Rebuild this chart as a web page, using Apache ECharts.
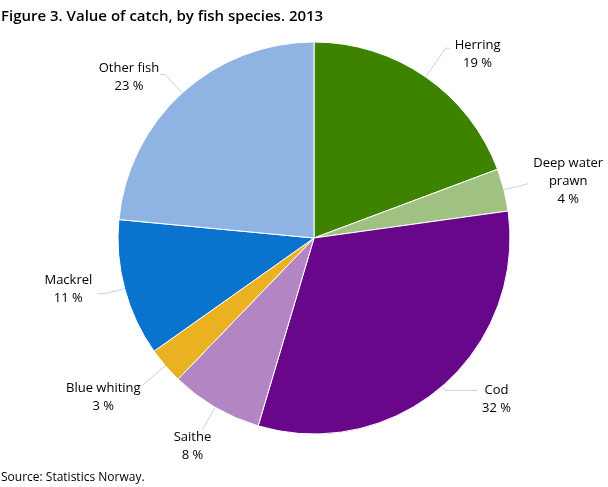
<!DOCTYPE html>
<html>
<head>
<meta charset="utf-8">
<title>Value of catch, by fish species. 2013</title>
<script src="https://cdn.jsdelivr.net/npm/echarts@6/dist/echarts.min.js"></script>
<style>
  html, body { margin: 0; padding: 0; background: #fff; }
  #catch_pie { width: 608px; height: 487px; }
</style>
</head>
<body>
<div id="catch_pie"></div>
<script>
// data: slice sizes estimated from the angles, printed shares as labelled
var categories = ['Herring', 'Deep water prawn', 'Cod', 'Saithe', 'Blue whiting', 'Mackrel', 'Other fish'];
var values = [19.3, 3.5, 31.8, 7.6, 3.0, 11.3, 23.5];
var printedPct = [19, 4, 32, 8, 3, 11, 23];
var labelNames = ['Herring', 'Deep water\nprawn', 'Cod', 'Saithe', 'Blue whiting', 'Mackrel', 'Other fish'];

var colors = ['#3d8300', '#9fc283', '#69078a', '#b385c2', '#eab221', '#0973ce', '#8fb3e2'];

// leader line tweaks per slice: [length, length2, gap to text, padding]
var leader = {
    'Herring':          [35, 4, 5, [12, 0, 0, 0]],
    'Deep water prawn': [25, 0, 5, [0, 0, 4, 0]],
    'Cod':              [5, 32, 5, [18, 0, 0, 0]],
    'Saithe':           [26, 0, -9, [34, 0, 0, 0]],
    'Blue whiting':     [30, 2, 0, [24, 0, 0, 0]],
    'Mackrel':          [20, 8, 5, [0, 0, 8, 0]],
    'Other fish':       [25, 5, 1, [6, 0, 0, 0]]
};

var myChart = echarts.init(document.getElementById('catch_pie'));

var pieData = categories.map(function (name, i) {
    var t = leader[name];
    return {
        name: name,
        value: values[i],
        itemStyle: { color: colors[i] },
        labelLine: { length: t[0], length2: t[1] },
        label: { distanceToLabelLine: t[2], padding: t[3] }
    };
});

var option = {
    animation: false,
    title: [
        {
            text: 'Figure 3. Value of catch, by fish species. 2013',
            left: -4,
            top: 4,
            textStyle: { fontFamily: 'Open Sans', fontSize: 15, fontWeight: 600, color: '#000' }
        },
        {
            text: 'Source: Statistics Norway.',
            left: -4,
            top: 467,
            textStyle: { fontFamily: 'Open Sans', fontSize: 12, fontWeight: 'normal', color: '#000' }
        }
    ],
    series: [
        {
            name: 'Value of catch',
            type: 'pie',
            center: [314, 238],
            radius: 196,
            startAngle: 90,
            clockwise: true,
            avoidLabelOverlap: false,
            itemStyle: { borderColor: '#fff', borderWidth: 1 },
            label: {
                show: true,
                position: 'outside',
                bleedMargin: 0,
                fontFamily: 'Open Sans',
                fontSize: 13,
                color: '#000',
                formatter: function (p) {
                    var lines = labelNames[p.dataIndex].split('\n');
                    lines.push(printedPct[p.dataIndex] + ' %');
                    return lines.map(function (s) { return '{n|' + s + '}'; }).join('\n');
                },
                rich: {
                    n: { align: 'center', fontFamily: 'Open Sans', fontSize: 13, lineHeight: 18, color: '#000' }
                }
            },
            labelLine: {
                show: true,
                smooth: false,
                lineStyle: { color: '#c9d1e1', width: 1 }
            },
            emphasis: { scale: false },
            data: pieData
        }
    ]
};

myChart.setOption(option);
</script>
</body>
</html>
